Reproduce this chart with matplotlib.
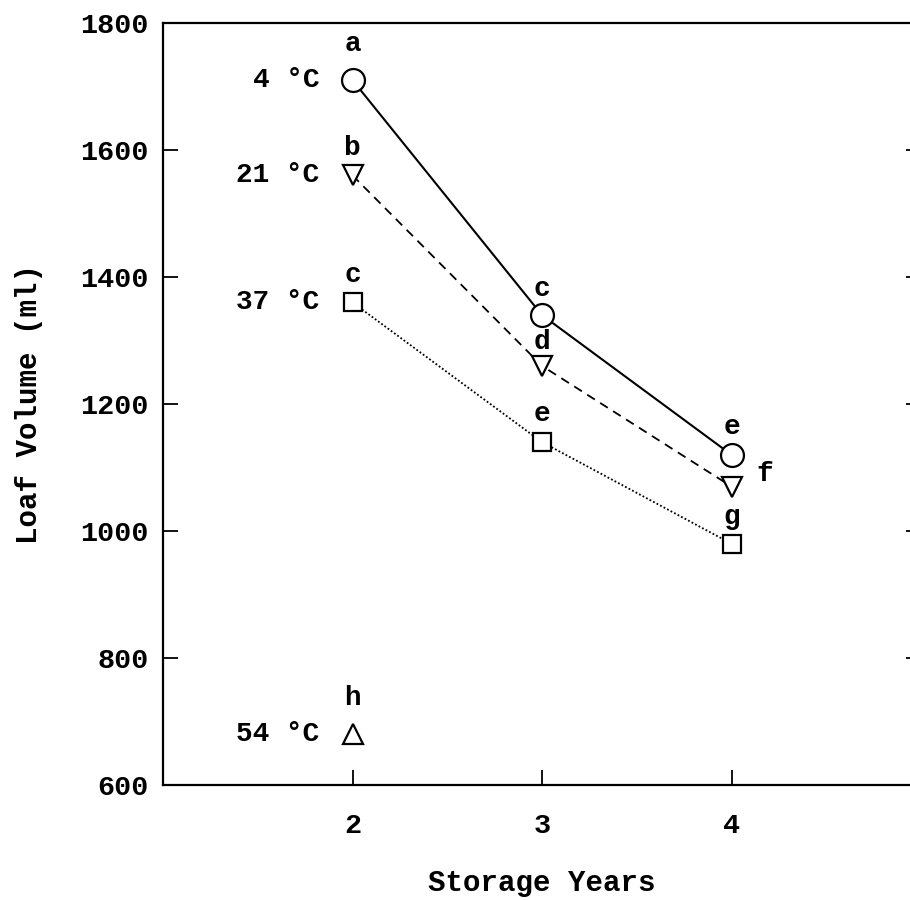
import matplotlib
matplotlib.use("Agg")
import matplotlib.pyplot as plt

# ---- data ----
years = [2, 3, 4]
vol_4C = [1710, 1340, 1120]
vol_21C = [1560, 1260, 1070]
vol_37C = [1360, 1140, 980]
years_54C = [2]
vol_54C = [680]

letters_4C = ["a", "c", "e"]
letters_21C = ["b", "d", "f"]
letters_37C = ["c", "e", "g"]
letters_54C = ["h"]

temp_labels = ["4 °C", "21 °C", "37 °C", "54 °C"]

xticks = [2, 3, 4]
yticks = [600, 800, 1000, 1200, 1400, 1600, 1800]

plt.rcParams['font.family'] = ['Liberation Mono', 'DejaVu Sans Mono']
plt.rcParams['font.weight'] = 'bold'
plt.rcParams['axes.labelweight'] = 'bold'

fig = plt.figure(figsize=(9.1, 9.0), dpi=100)
ax = fig.add_axes([163 / 910, 115 / 900, 758 / 910, 762 / 900])

mk = dict(markerfacecolor="white", markeredgecolor="black", markeredgewidth=1.6,
          color="black", zorder=3)
ax.plot(years, vol_4C, marker="o", markersize=16.5, linestyle="-", linewidth=1.5, **mk)
ax.plot(years, vol_21C, marker="v", markersize=15, linestyle=(0, (5, 3.5)), linewidth=1.3, **mk)
ax.plot(years, vol_37C, marker="s", markersize=13.5, linestyle=(0, (1, 1.2)), linewidth=1.3, **mk)
ax.plot(years_54C, vol_54C, marker="^", markersize=15, linestyle="none", **mk)

fs_ann = 20

def letters(xs, ys, labs, offsets):
    for x, y, l, off in zip(xs, ys, labs, offsets):
        ax.annotate(l, (x, y), xytext=off, textcoords="offset points",
                    ha="center", va="center", fontsize=fs_ann)

letters(years, vol_4C, letters_4C, [(0, 26), (0, 19), (0, 20)])
letters(years, vol_21C, letters_21C, [(0, 20), (0, 17), (24, 9)])
letters(years, vol_37C, letters_37C, [(0, 20), (0, 20), (0, 19)])
letters(years_54C, vol_54C, letters_54C, [(0, 26)])

for y, lab in zip([vol_4C[0], vol_21C[0], vol_37C[0], vol_54C[0]], temp_labels):
    ax.annotate(lab, (2, y), xytext=(-24, 0), textcoords="offset points",
                ha="right", va="center", fontsize=fs_ann)

ax.set_xlim(1, 5)
ax.set_ylim(600, 1800)
ax.set_xticks(xticks)
ax.set_yticks(yticks)
ax.tick_params(axis="both", direction="in", length=11, width=1.3, labelsize=20.5)
ax.tick_params(axis="y", right=True, pad=10)
ax.tick_params(axis="x", pad=20)

for s in ax.spines.values():
    s.set_linewidth(1.6)

ax.set_xlabel("Storage Years", fontsize=21, labelpad=22)
ax.set_ylabel("Loaf Volume (ml)", fontsize=21, labelpad=27)

fig.savefig("out.png", dpi=100)
